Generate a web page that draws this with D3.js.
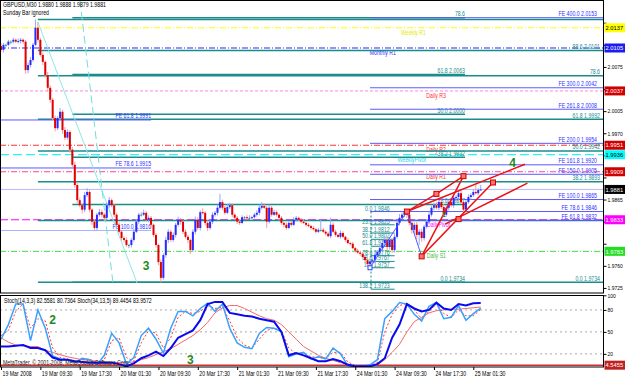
<!DOCTYPE html>
<html><head><meta charset="utf-8">
<script src="https://cdn.jsdelivr.net/npm/d3@7"></script>
<style>
body{margin:0;background:#fff;}
svg{display:block;font-family:"Liberation Sans",Arial,sans-serif;}
</style></head><body><div id="container"></div>
<script>
// ---- price data (GBPUSD M30), one value per bar ----
const firstOpen = 2.0108;
const closes = [
  2.0102,2.0110,2.0110,2.0115,2.0115,2.0118,2.0115,2.0116,2.0118,2.0115,
  2.0070,2.0078,2.0086,2.0110,2.0137,2.0118,2.0094,2.0083,2.0062,2.0042,
  2.0023,1.9994,1.9978,1.9994,2.0004,1.9975,1.9963,1.9972,1.9944,1.9920,
  1.9888,1.9864,1.9856,1.9849,1.9872,1.9877,1.9849,1.9830,1.9820,1.9841,
  1.9845,1.9841,1.9836,1.9856,1.9864,1.9856,1.9841,1.9825,1.9814,1.9804,
  1.9801,1.9793,1.9793,1.9801,1.9814,1.9830,1.9841,1.9841,1.9844,1.9833,
  1.9836,1.9825,1.9809,1.9793,1.9766,1.9741,1.9777,1.9801,1.9814,1.9801,
  1.9809,1.9825,1.9833,1.9830,1.9814,1.9806,1.9801,1.9785,1.9814,1.9833,
  1.9820,1.9845,1.9844,1.9828,1.9820,1.9830,1.9841,1.9844,1.9852,1.9861,
  1.9852,1.9844,1.9853,1.9856,1.9841,1.9836,1.9830,1.9828,1.9837,1.9837,
  1.9836,1.9836,1.9837,1.9841,1.9844,1.9852,1.9855,1.9852,1.9830,1.9852,
  1.9841,1.9845,1.9841,1.9836,1.9828,1.9825,1.9820,1.9828,1.9825,1.9833,
  1.9836,1.9833,1.9830,1.9828,1.9825,1.9823,1.9820,1.9818,1.9814,1.9817,
  1.9817,1.9814,1.9811,1.9807,1.9825,1.9814,1.9809,1.9806,1.9812,1.9806,
  1.9801,1.9796,1.9795,1.9788,1.9784,1.9781,1.9779,1.9774,1.9769,1.9763,
  1.9767,1.9769,1.9777,1.9782,1.9788,1.9796,1.9801,1.9790,1.9801,1.9785,
  1.9806,1.9828,1.9836,1.9841,1.9845,1.9841,1.9828,1.9817,1.9825,1.9809,
  1.9814,1.9804,1.9822,1.9830,1.9841,1.9852,1.9856,1.9852,1.9861,1.9853,
  1.9841,1.9852,1.9861,1.9856,1.9868,1.9869,1.9875,1.9861,1.9849,1.9861,
  1.9869,1.9872,1.9877,1.9875,1.9880,1.9881
];
// wick length above / below the body, in pips
const wickUp = [
  4,3,2,3,2,3,2,4,3,2, 3,4,5,3,13,9,3,4,2,5, 4,3,4,3,6,3,5,4,3,4, 5,3,4,3,5,6,3,2,4,3,
  5,4,3,4,5,3,2,3,4,2, 3,4,2,3,5,4,3,4,5,3, 4,3,2,3,2,4,3,5,4,3, 4,3,5,3,2,4,3,2,4,5,
  4,3,6,3,4,3,4,3,5,13, 4,3,5,4,3,2,3,4,3,2, 3,4,2,3,4,5,6,4,3,5, 3,4,3,2,3,2,4,3,3,4,
  3,2,3,4,2,3,2,3,2,3, 16,3,2,3,11,4,3,2,4,3, 2,3,2,3,2,3,2,3,2,3, 4,3,4,3,5,4,6,4,5,3,
  5,4,6,3,1,5,4,3,4,5, 4,5,3,4,5,3,4,5,3,4, 5,4,3,4,5,3,4,5,4,3, 4,3,4,14,3,7
];
const wickDn = [
  3,4,3,2,4,3,2,3,4,3, 6,5,4,3,2,4,3,5,4,6, 5,4,5,3,4,6,4,3,5,4, 4,5,3,6,4,3,4,5,3,4,
  3,4,5,3,4,3,4,5,3,4, 4,3,5,4,3,2,4,3,2,3, 4,5,3,4,5,7,3,4,5,3, 3,4,3,5,4,3,5,6,3,4,
  3,4,3,4,5,3,4,3,4,3, 4,3,2,3,4,3,4,3,2,3, 3,2,3,2,3,4,3,2,10,3, 3,2,3,4,3,4,3,2,3,2,
  3,2,3,2,3,2,3,2,3,2, 3,2,3,2,3,2,3,2,3,2, 3,2,3,2,3,2,3,2,3,4, 6,3,4,3,4,5,4,5,4,5,
  4,3,4,3,4,5,4,6,5,7, 16,6,4,3,4,3,4,3,4,3, 4,3,4,3,4,3,4,3,5,3, 3,4,3,2,3,1
];
const timeLabels = ["19 Mar 2008","19 Mar 09:30","19 Mar 17:30","20 Mar 01:30","20 Mar 09:30",
  "20 Mar 17:30","21 Mar 01:30","21 Mar 09:30","21 Mar 17:30","24 Mar 01:30","24 Mar 09:30",
  "24 Mar 17:30","25 Mar 01:30"];
const priceTicks = [2.0145,2.0110,2.0075,2.0040,2.0005,1.9970,1.9935,1.9900,1.9865,1.9830,1.9795,1.9760,1.9725];

// ---- stochastics, read every 3rd bar ----
const k14 = [40,60,88,88,38,80,55,17,13,12, 8,14,12,5,18,48,35,6,15,45, 55,40,21,55,78,78,72,82,89,78,
  88,55,35,29,27,48,56,55,50,16, 20,22,13,16,13,28,20,4,3,3, 5,12,68,78,90,88,74,65,85,90, 68,70,86,66,75,82.6];
const d14 = [45,52,78,88,55,68,65,28,15,13, 10,12,13,8,12,38,42,15,10,35, 52,48,28,42,70,78,75,78,86,82,
  84,65,42,32,28,40,52,55,52,28, 20,21,16,15,14,22,22,9,4,3, 4,8,50,74,86,89,80,68,78,88, 75,70,80,72,72,80.7];
const k34 = [30,30,31,32,28,28,25,15,12,12, 10,9,8,8,8,8,6,3,7,14, 18,23,17,28,42,47,52,66,88,91,
  91,76,74,72,71,68,66,64,50,18, 21,18,14,10,10,13,10,5,3,3, 3,6,14,42,60,88,82,78,80,90, 82,80,88,86,89,89.4];
const d34 = [42,36,32,31,30,30,25,22,19,16, 14,12,11,10,9,8,8,8,9,12, 15,19,23,27,33,39,45,53,63,76,
  83,86,86,82,77,72,68,66,60,50, 40,30,24,18,14,11,8,6,4,3, 3,5,12,22,33,50,64,70,76,79, 80,81,81,82,83,84];
const stochLevels = [80,50,20];
const stochLine = 4.5455;

// ---- drawn objects ----
const pivotNames = ["Weekly R1","Monthly R1","Daily R3","Daily R2","WeeklyPivot","Daily R1","DailyPivot","Daily S1"];
const pivotPrices = [2.0137,2.0105,2.0037,1.9951,1.9936,1.9909,1.9833,1.9783];

const fibAPrices = [1.9734,1.9832,1.9893,1.9942,1.9992,2.0061,2.0101,2.0150];
const fibALabels = ["0.0  1.9734","","38.2  1.9893","50.0  1.9942","61.8  1.9992","78.6","88.6  2.0101",""];
const fibBPrices = [1.9734,1.9857,1.9932,2.0000,2.0063,2.0153];
const fibBLabels = ["0.0  1.9734","23.6  1.9857","38.2  1.9932","50.0  2.0000","61.8  2.0063","78.6"];
const fibCPrices = [1.9846,1.9825,1.9812,1.9802,1.9791,1.9776,1.9767,1.9757,1.9723];
const fibCLabels = ["0.0  1.9846","23.6  1.9825","38.2  1.9812","50.0  1.9802","61.8  1.9791","78.6  1.9776","88.6  1.9767","100  1.9757","138.2  1.9723"];
const feRightPrices = [2.0153,2.0042,2.0008,1.9954,1.9920,1.9905,1.9865,1.9846,1.9832];
const feRightLabels = ["FE 400.0  2.0153","FE 300.0  2.0042","FE 261.8  2.0008","FE 200.0  1.9954","FE 161.8  1.9920","FE 150.0  1.9905","FE 100.0  1.9865","FE 78.6  1.9846","FE 61.8  1.9832"];
const feLeftPrices = [1.9991,1.9915,1.9816];
const feLeftLabels = ["FE 61.8  1.9991","FE 78.6  1.9915","FE 100.0  1.9816"];

// anchors as [bar, price]
const cyanLines = [[[15,2.0146],[55.3,1.9733]],[[32.1,2.0181],[45.5,1.9733]]];
const zigzag = [[150,1.9757],[165,1.9846],[171,1.9775]];
const redLines = [
  [[165,1.9846],[213,1.9921]],
  [[165,1.9846],[177,1.9874],[188,1.9902]],
  [[171,1.9775],[200,1.9892]],
  [[171,1.9775],[188,1.9902]],
  [[180.5,1.9826],[214,1.9891]]
];
const redPoints = [[165,1.9846],[171,1.9775],[177,1.9874],[188,1.9902],[186,1.9834],[200,1.9892]];
const waveMarks = [["3",59,1.9754],["4",208,1.9917],["1",180,1.9837]];
const stochMarks = [["2",21,61],["3",77,6]];

// ---- layout ----
const W = 603, mainH = 293, stTop = 295, stBot = 367;
const svg = d3.select('#container').append('svg').attr('width',625).attr('height',380);
const x = d3.scaleLinear().domain([0,195]).range([1,480.7]);
const y = d3.scaleLinear().domain([1.9717,2.0181]).range([mainH,0]);
const ys = d3.scaleLinear().domain([0,100]).range([368.5,295.3]);
const opens = closes.map((c,i)=> i ? closes[i-1] : firstOpen);

const defs = svg.append('defs');
defs.append('clipPath').attr('id','cm').append('rect').attr('x',0).attr('y',0).attr('width',W).attr('height',mainH);
defs.append('clipPath').attr('id','cs').append('rect').attr('x',0).attr('y',stTop).attr('width',W).attr('height',stBot-stTop);

const main = svg.append('g').attr('clip-path','url(#cm)');
const teal = '#1a8c8c';

function hline(g, p, x0, x1, color, dash, w){
  g.append('line').attr('x1',x0).attr('x2',x1).attr('y1',y(p)).attr('y2',y(p))
    .attr('stroke',color).attr('stroke-width',w||1).attr('stroke-dasharray',dash||null);
}
function label(g, txt, xx, yy, color, anchor){
  g.append('text').attr('x',xx).attr('y',yy).attr('fill',color).attr('text-anchor',anchor||'end')
    .style('font-size','6.5px').text(txt);
}

// pivots
const pivStyle = {
  "Weekly R1":  {c:'#ffff00', t:'#e8e800', d:'6,2,1,2', end:426, tag:'#ffff00', tt:'#000'},
  "Monthly R1": {c:'#2b2bff', t:'#2b2bff', d:'6,2,1,2', end:396, tag:'#1c1cf0', tt:'#fff'},
  "Daily R3":   {c:'#ff88dd', t:'#ff3030', d:'3,2', end:446, tag:'#d00000', tt:'#fff'},
  "Daily R2":   {c:'#ff3333', t:'#ff3030', d:'6,2,1,2', end:446, tag:'#d00000', tt:'#fff'},
  "WeeklyPivot":{c:'#00eeee', t:'#22d8e8', d:'9,4', end:426, tag:'#00ffff', tt:'#000'},
  "Daily R1":   {c:'#ff4499', t:'#ff3030', d:'6,2,1,2', end:446, tag:'#d00000', tt:'#fff'},
  "DailyPivot": {c:'#ff00ff', t:'#ff00ff', d:'8,3', end:450, tag:'#ff00ff', tt:'#fff'},
  "Daily S1":   {c:'#44dd44', t:'#44bb44', d:'6,2,1,2', end:446, tag:'#22dd22', tt:'#fff'}
};
pivotNames.forEach((n,i)=>{
  const s = pivStyle[n];
  hline(main, pivotPrices[i], 0, W, s.c, s.d, 1);
  label(main, n, s.end, y(pivotPrices[i])+7, s.t);
});

// fibonacci sets
fibAPrices.forEach((p,i)=>{
  hline(main, p, x(15), W, teal, null, 1.5);
  if (fibALabels[i]) label(main, fibALabels[i], 600, y(p)-1.5, teal);
});
fibBPrices.forEach((p,i)=>{
  hline(main, p, x(29), 465, teal, null, 1.5);
  label(main, fibBLabels[i], 465, y(p)-1.5, teal);
});
fibCPrices.forEach((p,i)=>{
  hline(main, p, x(150)+1, x(160), teal, null, 1);
  label(main, fibCLabels[i], x(158), y(p)-1, teal);
});
main.append('line').attr('x1',x(150)+1).attr('x2',x(150)+1)
  .attr('y1',y(fibCPrices[0])).attr('y2',y(fibCPrices[fibCPrices.length-1])).attr('stroke',teal).attr('stroke-dasharray','2,2');

// expansion sets
feRightPrices.forEach((p,i)=>{
  hline(main, p, x(150), W, '#5a5aff', null, 1);
  label(main, feRightLabels[i], 597, y(p)-1.5, '#3030ff');
});
feLeftPrices.forEach((p,i)=>{
  hline(main, p, 0, x(61), i==2 ? '#a8b4ff' : '#5a5aff', null, 1);
  label(main, feLeftLabels[i], x(61), y(p)-1.5, '#3030ff');
});

// bid line
hline(main, closes[closes.length-1], 0, W, '#b8b8ff', null, 1);

// cyan trend lines
const lineGen = d3.line().x(d=>x(d[0])).y(d=>y(d[1]));
cyanLines.forEach((l,i)=>{
  main.append('path').attr('d',lineGen(l)).attr('fill','none')
    .attr('stroke', i ? '#6fe0e0' : '#8fe6e6').attr('stroke-width',1).attr('stroke-dasharray', i ? '8,4' : null);
});

// candles
const bars = main.append('g');
closes.forEach((c,i)=>{
  const o = opens[i];
  const up = c >= o;
  const hi = Math.max(o,c) + wickUp[i]*0.0001;
  const lo = Math.min(o,c) - wickDn[i]*0.0001;
  const xi = x(i);
  bars.append('line').attr('x1',xi).attr('x2',xi).attr('y1',y(hi)).attr('y2',y(lo))
    .attr('stroke', up ? '#9aa6ff' : '#ff9a9a').attr('stroke-width',1);
  const top = y(Math.max(o,c)), h = Math.max(1, y(Math.min(o,c)) - top);
  bars.append('rect').attr('x',xi-1).attr('y',top).attr('width',2).attr('height',h)
    .attr('fill', Math.abs(c-o) < 0.00005 ? '#22aa22' : (up ? '#2a2aff' : '#e00000'));
});

// wave pattern lines
main.append('path').attr('d',lineGen(zigzag)).attr('fill','none').attr('stroke','#4a5cff').attr('stroke-width',1);
main.append('rect').attr('x',x(150)-2).attr('y',y(1.9757)-2).attr('width',4).attr('height',4)
  .attr('fill','#fff').attr('stroke','#3040ff');
redLines.forEach(l=>{
  main.append('path').attr('d',lineGen(l)).attr('fill','none').attr('stroke','#ee1111').attr('stroke-width',1.5);
});
redPoints.forEach(p=>{
  main.append('rect').attr('x',x(p[0])-2.5).attr('y',y(p[1])-2.5).attr('width',5).attr('height',5)
    .attr('fill','#ff7070').attr('stroke','#cc0000');
});
waveMarks.forEach(m=>{
  main.append('text').attr('class','mark').attr('x',x(m[1])).attr('y',y(m[2])).attr('text-anchor','middle')
    .attr('fill','#1e8a1e').style('font-size', m[0]=='1' ? '7px' : '12px').style('font-weight','bold').text(m[0]);
});

// header text
svg.append('text').attr('x',3).attr('y',7).style('font-size','6.5px').text('GBPUSD,M30  1.9880 1.9888 1.9879 1.9881');
svg.append('text').attr('x',3).attr('y',15).style('font-size','6.5px').text('Sunday Bar ignored');

// ---- stochastic panel ----
const st = svg.append('g').attr('clip-path','url(#cs)');
stochLevels.forEach(v=>{
  st.append('line').attr('x1',0).attr('x2',W).attr('y1',ys(v)).attr('y2',ys(v))
    .attr('stroke','#aaaaaa').attr('stroke-dasharray','2,3');
});
st.append('line').attr('x1',0).attr('x2',W).attr('y1',ys(stochLine)).attr('y2',ys(stochLine))
  .attr('stroke','#d03030').attr('stroke-width',1.5);
const sLine = d3.line().x((d,i)=>x(i*3)).y(d=>ys(d));
st.append('path').attr('d',sLine(d34)).attr('fill','none').attr('stroke','#f06a6a').attr('stroke-width',1);
st.append('path').attr('d',sLine(d14)).attr('fill','none').attr('stroke','#ff3a3a').attr('stroke-width',1).attr('stroke-dasharray','2,2');
st.append('path').attr('d',sLine(k14)).attr('fill','none').attr('stroke','#3aa0ff').attr('stroke-width',1.5);
st.append('path').attr('d',sLine(k34)).attr('fill','none').attr('stroke','#0a0aee').attr('stroke-width',2);
stochMarks.forEach(m=>{
  st.append('text').attr('class','mark').attr('x',x(m[1])).attr('y',ys(m[2])).attr('text-anchor','middle')
    .attr('fill','#1e8a1e').style('font-size','12px').style('font-weight','bold').text(m[0]);
});
svg.append('text').attr('x',4).attr('y',303).style('font-size','6.5px')
  .text('Stoch(14,3,3) 82.5581 80.7364   Stoch(34,13,5) 89.4454 83.9572');
svg.append('text').attr('x',3).attr('y',365).style('font-size','6.5px').attr('fill','#222')
  .text('MetaTrader, \u00a9 2001-2008, MetaQuotes Software Corp.');

// ---- frames and axes ----
svg.append('rect').attr('x',0.5).attr('y',0.5).attr('width',W).attr('height',mainH-0.5)
  .attr('fill','none').attr('stroke','#000');
svg.append('rect').attr('x',0.5).attr('y',stTop+0.5).attr('width',W).attr('height',stBot-stTop-0.5)
  .attr('fill','none').attr('stroke','#000');

const axisFont = '"Liberation Sans",Arial,sans-serif';
const ay = svg.append('g').attr('transform',`translate(${W+0.5},0)`)
  .call(d3.axisRight(y).tickValues(priceTicks).tickFormat(d3.format('.4f')).tickSize(3).tickPadding(1));
ay.select('.domain').remove();
ay.selectAll('text').style('font-size','5.5px').style('font-family',axisFont);

const as = svg.append('g').attr('transform',`translate(${W+0.5},0)`)
  .call(d3.axisRight(ys).tickValues([100].concat(stochLevels)).tickSize(3).tickPadding(1));
as.select('.domain').remove();
as.selectAll('text').style('font-size','5.5px').style('font-family',axisFont);

const ax = svg.append('g').attr('transform',`translate(0,${stBot})`)
  .call(d3.axisBottom(x).tickValues(d3.range(0,196,16)).tickFormat((d,i)=>timeLabels[i]).tickSize(3));
ax.select('.domain').remove();
ax.selectAll('text').attr('text-anchor','start').attr('dx',1).attr('y',4)
  .style('font-size','6.5px').style('font-family',axisFont);

// price tags on the right axis
const tagYs = [];
function tag(yy, txt, fill, color){
  tagYs.push(yy);
  svg.append('rect').attr('x',W+1.5).attr('y',yy-4.5).attr('width',20.5).attr('height',9).attr('fill',fill);
  svg.append('text').attr('class','tagt').attr('x',W+2.5).attr('y',yy+2.2).attr('fill',color)
    .style('font-size','6.2px').text(txt);
}
pivotNames.forEach((n,i)=>{
  const s = pivStyle[n];
  tag(y(pivotPrices[i]), pivotPrices[i].toFixed(4), s.tag, s.tt);
});
tag(y(closes[closes.length-1]), closes[closes.length-1].toFixed(4), '#000', '#fff');
tag(ys(stochLine), stochLine.toFixed(4), '#c02020', '#fff');

// tick labels sitting under a tag are hidden by it, as in the terminal
ay.selectAll('.tick').each(function(d){
  if (tagYs.some(t => Math.abs(t - y(d)) < 8)) d3.select(this).select('text').remove();
});

// the terminal font is narrow: squeeze the small texts horizontally
svg.selectAll('text').filter(function(){ return this.getAttribute('class') !== 'mark'; }).each(function(){
  const w = this.getComputedTextLength();
  let k = 0.8;
  if (this.getAttribute('class') === 'tagt') k = 0.93;
  else if (this.closest('.tick') && this.closest('g').parentNode !== ax.node()) k = 0.9;
  if (w > 0) d3.select(this).attr('textLength', w*k).attr('lengthAdjust','spacingAndGlyphs');
});
</script></body></html>
